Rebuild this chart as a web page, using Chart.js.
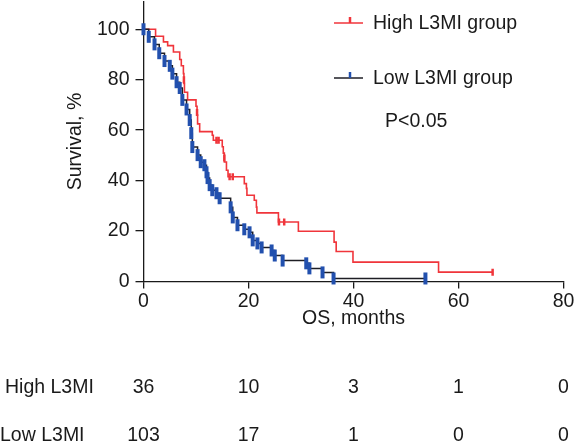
<!DOCTYPE html>
<html>
<head>
<meta charset="utf-8">
<script src="https://cdn.jsdelivr.net/npm/chart.js@4/dist/chart.umd.min.js"></script>
<style>
  html, body { margin: 0; padding: 0; background: #fff; }
  #wrap { width: 576px; height: 447px; position: relative; }
</style>
</head>
<body>
<div id="wrap"><canvas id="km"></canvas></div>
<script>
// ── Data ─────────────────────────────────────────────────
const timeTicks = [0, 20, 40, 60, 80];
const survTicks = [0, 20, 40, 60, 80, 100];

// High L3MI group (red), step points: time (months) -> survival (%)
const highT = [0, 2.3, 3.8, 4.6, 5.7, 6.9, 7.2, 7.6, 7.7, 7.8, 8.4, 10.0, 10.2, 10.3, 10.7, 13.1, 13.3, 15.0, 15.2, 15.4, 15.8, 16.1, 19.2, 19.6, 19.7, 21.1, 21.5, 21.6, 25.7, 29.5, 36.3, 36.7, 39.9, 56.2, 66.5];
const highS = [100, 97.2, 95, 93.5, 91, 88, 85.5, 82.4, 78.5, 75, 72, 69.5, 66, 62.5, 59.4, 58, 56, 53.4, 50.9, 47.4, 44.1, 41.5, 38.8, 36.9, 34.2, 32.2, 29.5, 27.2, 23.6, 19.9, 15.6, 11.9, 7.7, 3.7, 3.7];
const highCensorT = [7.7, 10.2, 13.9, 14.3, 15.4, 16.4, 17.0, 25.8, 26.8, 66.5];
const highCensorS = [80, 67, 56, 56, 49, 41.5, 41.5, 23.6, 23.6, 3.7];

// Low L3MI group (dark line, blue censor marks)
const lowT = [0, 1.0, 2.1, 3.0, 4.0, 5.0, 5.5, 6.3, 6.9, 7.4, 8.2, 8.8, 9.1, 9.3, 10.3, 10.9, 11.6, 12.0, 12.2, 12.6, 13.1, 13.9, 14.5, 16.6, 17.0, 17.9, 19.2, 20.2, 20.8, 21.7, 22.5, 24.4, 25.0, 26.5, 31.0, 31.6, 34.1, 36.2, 53.7];
const lowS = [100, 97, 94, 90.5, 87.4, 85.5, 82.4, 79, 76.7, 72, 68.2, 64, 58.8, 53.3, 50.1, 47.3, 46.1, 43.3, 41, 38.2, 36.2, 35, 33, 29.4, 25.4, 22.3, 20.7, 19.5, 16.3, 15.1, 13.5, 12.3, 10.3, 8.3, 7.2, 5.2, 3.6, 1.2, 1.2];

// Number at risk
const riskTimes = [0, 20, 40, 60, 80];
const riskHigh = [36, 10, 3, 1, 0];
const riskLow = [103, 17, 1, 0, 0];
const riskRows = ['High L3MI', 'Low L3MI'];
const groupNames = ['High L3MI group', 'Low L3MI group'];
const pText = 'P<0.05';

// ── Styling ───────────────────────────────────────────────
const FONT = '"Liberation Sans", Arial, Helvetica, sans-serif';
const FSIZE = 19.5;
const INK = '#1a1a1a';
const RED = '#f0353b';
const BLUE = '#2250ae';
const DARK = '#1e1e24';

const pts = (xs, ys) => xs.map((x, i) => ({ x, y: ys[i] }));

// legend, p-value and number-at-risk table
const extras = {
  id: 'extras',
  afterDraw(chart) {
    const { ctx } = chart;
    const xs = chart.scales.x;
    ctx.save();
    ctx.font = `${FSIZE}px ${FONT}`;
    ctx.fillStyle = INK;
    ctx.textBaseline = 'middle';

    // legend
    const rows = [
      { y: 23, line: RED, tick: RED, label: groupNames[0] },
      { y: 78, line: DARK, tick: BLUE, label: groupNames[1] },
    ];
    rows.forEach(r => {
      ctx.strokeStyle = r.line;
      ctx.lineWidth = 1.5;
      ctx.beginPath();
      ctx.moveTo(334, r.y); ctx.lineTo(363, r.y);
      ctx.stroke();
      ctx.strokeStyle = r.tick;
      ctx.lineWidth = 2.5;
      ctx.beginPath();
      ctx.moveTo(350, r.y); ctx.lineTo(350, r.y - 6);
      ctx.stroke();
      ctx.textAlign = 'left';
      ctx.fillText(r.label, 373, r.y + 1);
    });
    ctx.fillText(pText, 385, 122);

    // number at risk
    const tableY = [388, 436];
    [riskHigh, riskLow].forEach((vals, r) => {
      ctx.textAlign = 'left';
      ctx.fillText(riskRows[r], r === 0 ? 5 : 0, tableY[r]);
      ctx.textAlign = 'center';
      vals.forEach((v, i) => {
        ctx.fillText(String(v), xs.getPixelForValue(riskTimes[i]), tableY[r]);
      });
    });
    ctx.restore();
  }
};

const tickFont = { family: FONT, size: FSIZE };

new Chart(document.getElementById('km'), {
  type: 'line',
  data: {
    datasets: [
      {
        label: groupNames[0],
        data: pts(highT, highS),
        stepped: 'before',
        borderColor: RED,
        borderWidth: 1.6,
        pointRadius: 0,
        fill: false,
        order: 2,
      },
      {
        label: groupNames[0] + ' censored',
        data: pts(highCensorT, highCensorS),
        showLine: false,
        pointStyle: 'line',
        rotation: 90,
        pointRadius: 3.5,
        pointBorderColor: RED,
        pointBorderWidth: 2.5,
        order: 1,
      },
      {
        label: groupNames[1],
        data: pts(lowT, lowS),
        stepped: 'before',
        borderColor: DARK,
        borderWidth: 1.5,
        pointStyle: 'line',
        rotation: 90,
        pointRadius: 6,
        pointBorderColor: BLUE,
        pointBorderWidth: 4,
        fill: false,
        clip: false,
        order: 0,
      },
    ],
  },
  options: {
    responsive: true,
    maintainAspectRatio: false,
    animation: false,
    events: [],
    layout: { autoPadding: false, padding: { top: 1.5, right: 12.5, left: 0, bottom: 105.5 } },
    plugins: {
      legend: { display: false },
      tooltip: { enabled: false },
    },
    scales: {
      x: {
        type: 'linear',
        min: 0,
        max: 80,
        afterBuildTicks: s => { s.ticks = timeTicks.map(v => ({ value: v })); },
        afterFit: s => { s.height = 60; },
        ticks: { color: INK, font: tickFont, padding: 1, maxRotation: 0 },
        grid: { drawOnChartArea: false, drawTicks: true, tickLength: 7, color: INK, lineWidth: 1.3 },
        border: { display: true, color: INK, width: 1.3 },
        title: { display: true, text: 'OS, months', color: INK, font: tickFont, padding: { top: 0, bottom: 11 } },
      },
      y: {
        type: 'linear',
        min: 0,
        max: 111,
        afterBuildTicks: s => { s.ticks = survTicks.map(v => ({ value: v })); },
        afterFit: s => { s.width = 143.5; s.paddingTop = 0; s.paddingBottom = 0; },
        ticks: { color: INK, font: tickFont, padding: 6 },
        grid: { drawOnChartArea: false, drawTicks: true, tickLength: 8, color: INK, lineWidth: 1.3 },
        border: { display: true, color: INK, width: 1.3 },
        title: { display: true, text: 'Survival, %', color: INK, font: tickFont, padding: { top: 64, bottom: 0 } },
      },
    },
  },
  plugins: [extras],
});
</script>
</body>
</html>
